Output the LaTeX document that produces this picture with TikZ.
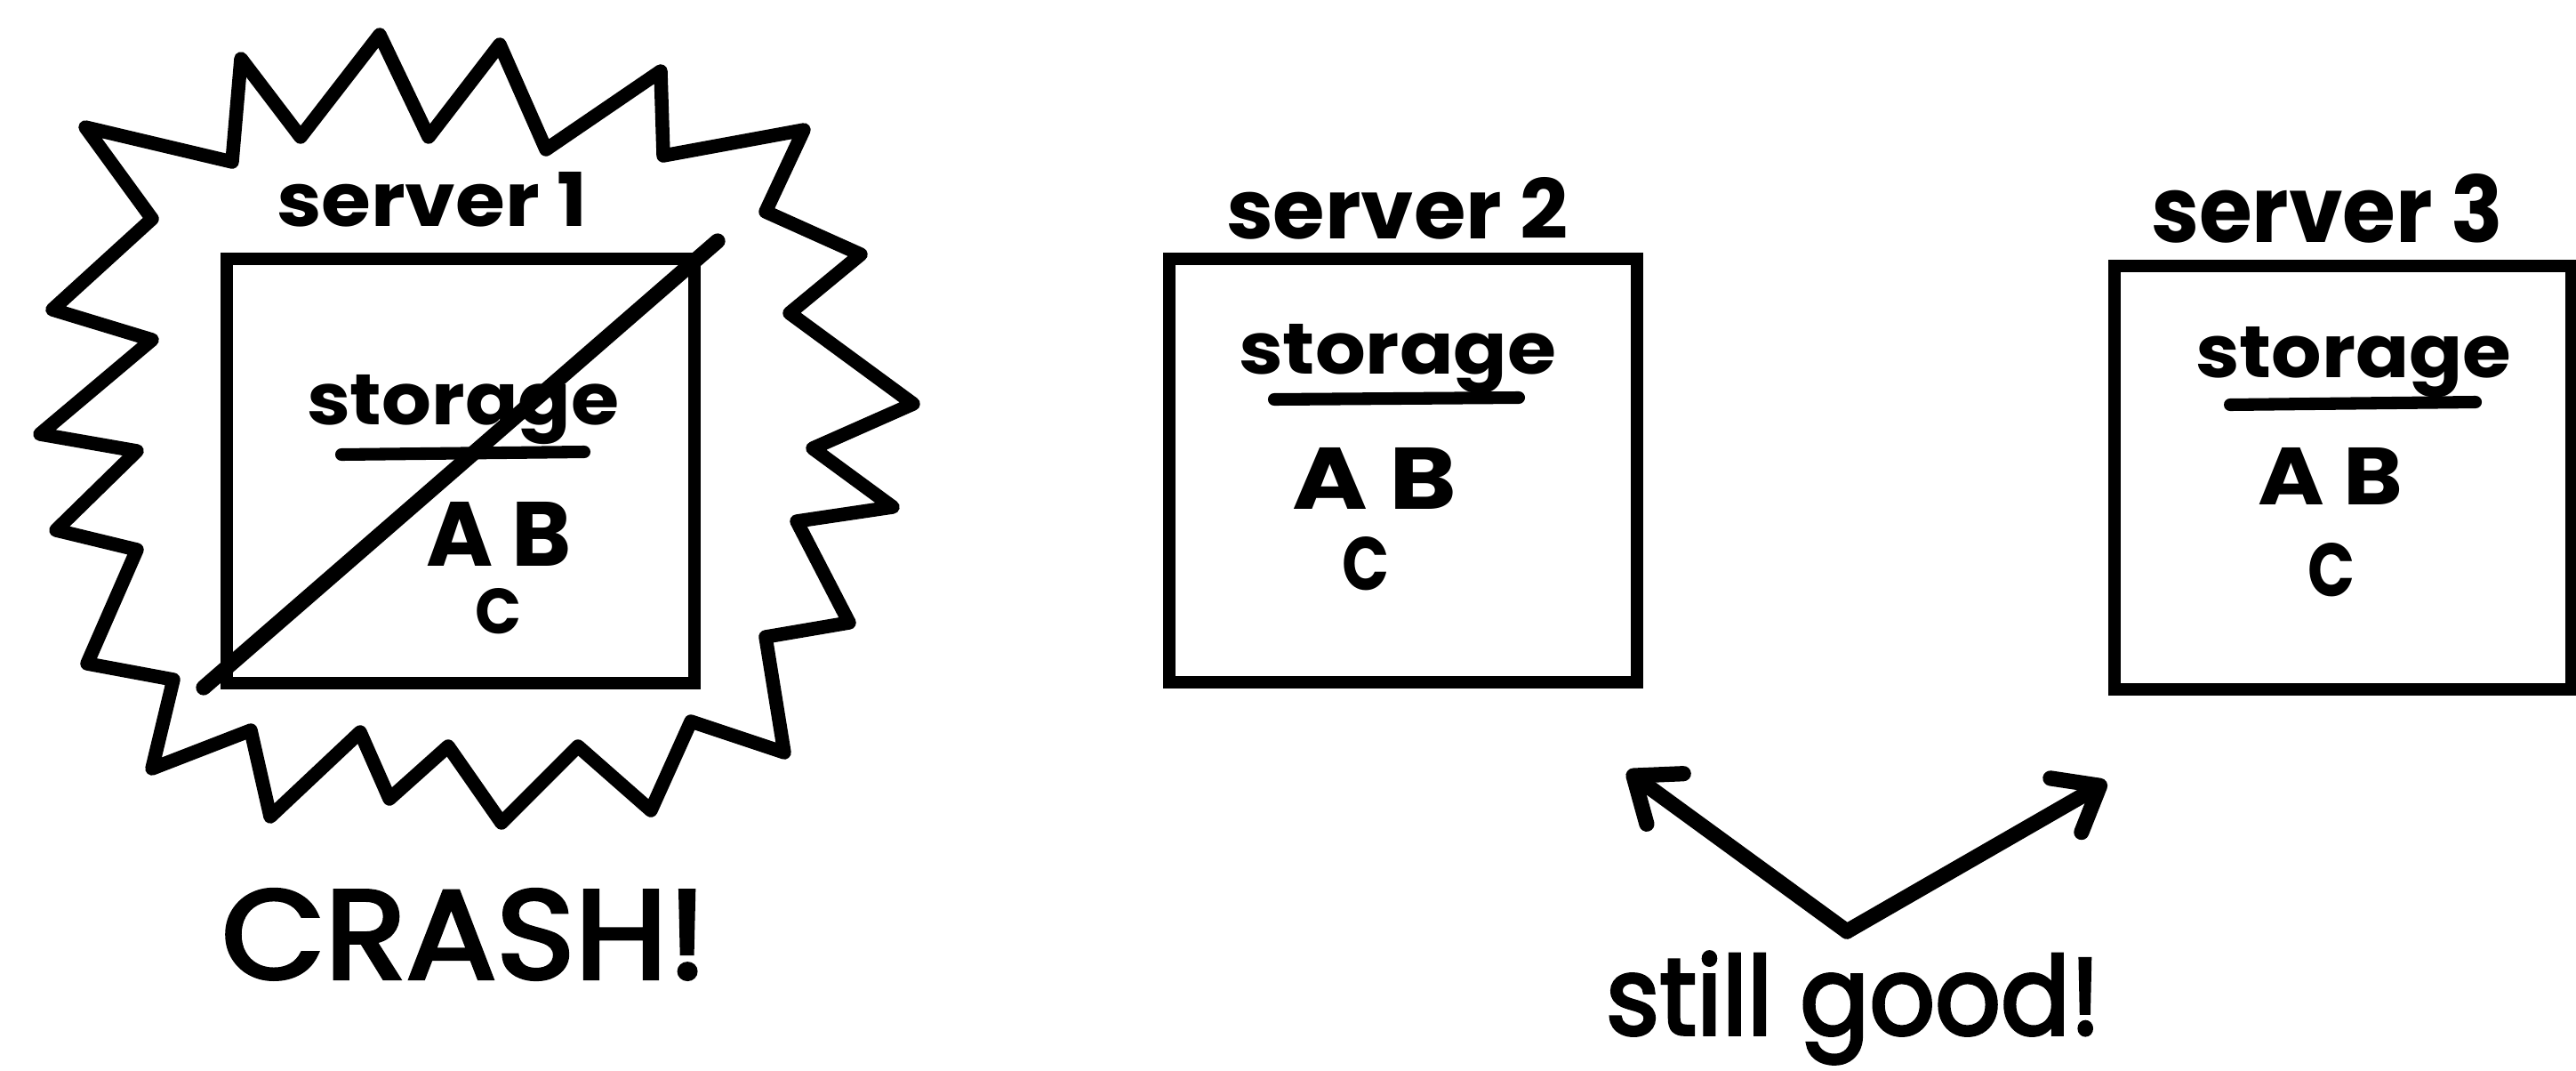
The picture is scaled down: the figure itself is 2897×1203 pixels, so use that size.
\documentclass[tikz,border=0pt]{standalone}
\usepackage{fontspec}
\setmainfont{Poppins}
\usepackage{graphicx}
\usetikzlibrary{arrows.meta}
\newlength\pxu
\setlength\pxu{0.1mm}
\newcommand\pxbox[3]{\resizebox{#1\pxu}{#2\pxu}{#3}}
\newcommand\thicktext[2]{\special{pdf:literal 2 Tr #1 w}#2\special{pdf:literal 0 Tr}}
\tikzset{
  ink/.style={line width=4.4pt, line cap=round, line join=round, draw=black},
  boxline/.style={draw=black, line width=3.9pt, inner sep=0pt, outer sep=0pt},
  txt/.style={inner sep=0pt, outer sep=0pt, anchor=base west},
  uline/.style={line width=4pt, line cap=round},
  barb/.style={-{Straight Barb[length=4.4mm,width=7mm,line cap=round,line join=round]}},
}
\begin{document}
\begin{tikzpicture}[x=0.01cm,y=-0.01cm]
\useasboundingbox (0,0) rectangle (2897,1203);
\fill[white] (0,0) rectangle (2897,1203);

% starburst
\draw[ink] (96,143) -- (261,182) -- (271,66) -- (338,154) -- (427,39) -- (482,154)
  -- (562,50) -- (614,168) -- (743,80) -- (746,175) -- (904,146) -- (861,238)
  -- (968,286) -- (888,352) -- (1027,454) -- (914,504) -- (1004,570) -- (896,586)
  -- (955,700) -- (861,716) -- (882,846) -- (777,811) -- (732,911) -- (650,839)
  -- (564,925) -- (504,839) -- (438,898) -- (405,823) -- (304,918) -- (282,821)
  -- (171,864) -- (195,764) -- (98,746) -- (154,618) -- (63,596) -- (154,507)
  -- (45,488) -- (171,382) -- (59,348) -- (171,246) -- cycle;

% boxes
\node[boxline, minimum width=526\pxu, minimum height=477\pxu] (box1) at (518,529.5) {};
\node[boxline, minimum width=526\pxu, minimum height=476\pxu] (box2) at (1578,529) {};
\node[boxline, minimum width=514\pxu, minimum height=476\pxu] (box3) at (2635,537) {};

% server labels
\node[txt] (s1) at (311,254) {\pxbox{349}{61}{\bfseries server 1}};
\node[txt] (s2) at (1379,268) {\pxbox{384}{69}{\bfseries server 2}};
\node[txt] (s3) at (2419,272) {\pxbox{396}{77}{\bfseries server 3}};

% storage labels
\node[txt] (st1) at (345,477) {\pxbox{351}{56}{\bfseries storage}};
\node[txt] (st2) at (1393,420) {\pxbox{357}{56}{\bfseries storage}};
\node[txt] (st3) at (2469,424) {\pxbox{355}{57}{\bfseries storage}};
\draw[uline] (384,511) -- (657,508);
\draw[uline] (1433,449) -- (1708,447);
\draw[uline] (2508,455) -- (2784,452);

% contents
\node[txt] (ab1) at (479,636) {\pxbox{164}{72}{\bfseries A B}};
\node[txt] (c1) at (534,712) {\pxbox{52}{51}{\bfseries C}};
\node[txt] (ab2) at (1453,572) {\pxbox{185}{69}{\bfseries A B}};
\node[txt] (c2) at (1509,663) {\pxbox{53}{60}{\bfseries C}};
\node[txt] (ab3) at (2539,567) {\pxbox{163}{64}{\bfseries A B}};
\node[txt] (c3) at (2595,670) {\pxbox{53}{60}{\bfseries C}};

% slash through server 1
\coordinate (sla) at (229,773);
\coordinate (slb) at (807,271);
\draw[ink, line width=4.9pt] (sla) -- (slb);

% captions
\node[txt] (crash) at (249,1100) {\pxbox{546}{100}{\thicktext{0.3}{CRASH!}}};
\node[txt] (still) at (1806,1163) {\pxbox{556}{93}{\thicktext{0.3}{still good!}}};

% arrows
\coordinate (v) at (2077,1047);
\coordinate (lt) at (1830,867);
\coordinate (rt) at (2369,879);
\draw[ink, line width=4.9pt, barb] (v) -- (lt);
\draw[ink, line width=4.9pt, barb] (v) -- (rt);
\end{tikzpicture}
\end{document}
